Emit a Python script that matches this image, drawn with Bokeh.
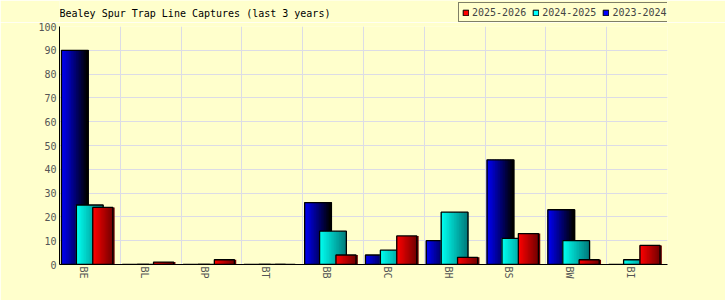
import numpy as np
from bokeh.plotting import figure
from bokeh.layouts import column
from bokeh.models import ColumnDataSource, FixedTicker, Legend, LegendItem, Range1d, Label
from bokeh.embed import file_html
from bokeh.resources import INLINE

# ---- data ----
categories = ["BE", "BL", "BP", "BT", "BB", "BC", "BH", "BS", "BW", "BI"]
y2023_2024 = [90, 0, 0, 0, 26, 4, 10, 44, 23, 0]
y2024_2025 = [25, 0, 0, 0, 14, 6, 22, 11, 10, 2]
y2025_2026 = [24, 1, 2, 0, 4, 12, 3, 13, 2, 8]
series_labels = ["2023-2024", "2024-2025", "2025-2026"]
y_ticks = list(range(0, 101, 10))
title_text = "Bealey Spur Trap Line Captures (last 3 years)"

BG = "#ffffcc"
FONT = "DejaVu Sans Mono"
TOP_H = 22

# ---- header figure (title + legend); its frame gets aligned with the chart frame ----
top = figure(width=725, height=TOP_H, output_backend="svg", toolbar_location=None,
             x_axis_type=None, y_axis_type=None,
             x_range=Range1d(0, 1), y_range=Range1d(0, 1),
             background_fill_color=BG, border_fill_color=BG,
             min_border=0, min_border_left=59, min_border_right=58,
             min_border_top=0, min_border_bottom=0)
top.outline_line_color = None

top.add_layout(Label(x=0, y=9, x_units="screen", y_units="screen", text=title_text,
                     text_font=FONT, text_font_size="10px", text_color="black",
                     text_baseline="alphabetic", text_align="left"))

leg_cols = {"2023-2024": "#0000ff", "2024-2025": "#00ffff", "2025-2026": "#ff0000"}
proxies = {}
for lab in series_labels:
    # legend-only proxy glyph, placed outside the header's visible range
    proxies[lab] = top.vbar(x=[-5], top=[0], width=0.1, fill_color=leg_cols[lab],
                            line_color="black", line_width=1)

legend = Legend(items=[LegendItem(label=lab, renderers=[proxies[lab]]) for lab in reversed(series_labels)],
                location=(399, 0), orientation="horizontal",
                glyph_width=7, glyph_height=7, label_height=12, label_standoff=3,
                spacing=6, padding=3, margin=0,
                label_text_font=FONT, label_text_font_size="10px", label_text_color="#444444",
                border_line_color="black", border_line_width=1,
                background_fill_color=BG, background_fill_alpha=1.0)
top.add_layout(legend)

# ---- main chart ----
p = figure(width=725, height=300 - TOP_H, output_backend="svg", toolbar_location=None,
           title=None,
           x_range=Range1d(0, 10), y_range=Range1d(0, 100),
           background_fill_color=BG, border_fill_color=BG,
           min_border_left=59, min_border_right=58, min_border_top=26 - TOP_H, min_border_bottom=36)
p.outline_line_color = None

idx = np.arange(len(categories))

# style per series: (bar centre offset in group, bar width, left colour, right colour, shadow)
styles = [
    (0.2525, 0.440, (0, 0, 245), (0, 0, 0), None),
    (0.4980, 0.440, (0, 255, 240), (0, 128, 128), None),
    (0.7120, 0.330, (255, 0, 0), (120, 0, 0), "#6a0000"),
]
values = [y2023_2024, y2024_2025, y2025_2026]
N = 16

def hexc(c):
    return "#%02x%02x%02x" % tuple(int(round(v)) for v in c)

for vals, (off, w, cl, cr, shadow) in zip(values, styles):
    vals = np.asarray(vals, dtype=float)
    centers = idx + off
    if shadow is not None:
        p.vbar(x=centers + 0.03, top=vals, bottom=-1, width=w, fill_color=shadow, line_color=None)
    xs, tops, cols = [], [], []
    sw = w / N
    for k in range(N):
        t = k / (N - 1)
        col = hexc([a + (b - a) * t for a, b in zip(cl, cr)])
        for c, v in zip(centers, vals):
            xs.append(c - w / 2 + (k + 0.5) * sw)
            tops.append(v)
            cols.append(col)
    src = ColumnDataSource(dict(x=xs, top=tops, color=cols))
    p.vbar(x="x", top="top", width=sw * 1.6, fill_color="color", line_color=None, source=src)
    p.vbar(x=centers, top=vals, bottom=-0.6, width=w, fill_color=None, line_color="black", line_width=1.3)

# axes
p.yaxis.ticker = FixedTicker(ticks=y_ticks)
tick_pos = [i + 0.390625 for i in range(len(categories))]
p.xaxis.ticker = FixedTicker(ticks=tick_pos)
p.xaxis.major_label_overrides = {t: c for t, c in zip(tick_pos, categories)}
p.xaxis.major_label_orientation = "vertical"
for ax in (p.xaxis, p.yaxis):
    ax.axis_line_color = "black"
    ax.axis_line_width = 1
    ax.major_tick_line_color = None
    ax.minor_tick_line_color = None
    ax.major_tick_in = 0
    ax.major_tick_out = 0
    ax.minor_tick_in = 0
    ax.minor_tick_out = 0
    ax.major_label_text_font = FONT
    ax.major_label_text_font_size = "10px"
    ax.major_label_text_color = "#555555"
p.yaxis.major_label_standoff = 3
p.xaxis.major_label_standoff = 2

p.xgrid.ticker = FixedTicker(ticks=list(range(11)))
p.xgrid.grid_line_color = "#dcdce6"
p.ygrid.grid_line_color = "#dcdce6"

layout = column(top, p, spacing=0)
open("out.html", "w").write(file_html(layout, INLINE))
